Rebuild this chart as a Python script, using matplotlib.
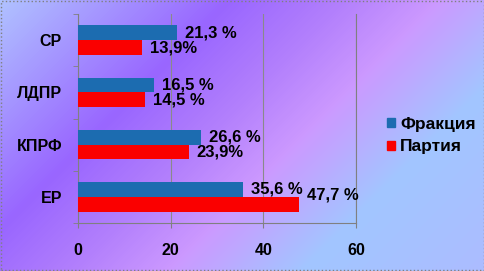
import numpy as np
import matplotlib
matplotlib.use("Agg")
import matplotlib.pyplot as plt
from matplotlib.colors import LinearSegmentedColormap
from matplotlib.patches import Patch, Rectangle

plt.rcParams['font.family'] = ['Liberation Sans', 'DejaVu Sans']
plt.rcParams['font.weight'] = 'bold'

# data (bottom to top, as drawn)
parties = ['ЕР', 'КПРФ', 'ЛДПР', 'СР']
fraction = [35.6, 26.6, 16.5, 21.3]
party = [47.7, 23.9, 14.5, 13.9]
fraction_labels = ['35,6 %', '26,6 %', '16,5 %', '21,3 %']
party_labels = ['47,7 %', '23,9%', '14,5 %', '13,9%']
series_names = ['Фракция', 'Партия']
x_ticks = [0, 20, 40, 60]

W, H = 485, 271
fig = plt.figure(figsize=(W / 100, H / 100), dpi=100)

# diagonal gradient background
bg = fig.add_axes([0, 0, 1, 1], zorder=-10)
yy, xx = np.mgrid[0:H, 0:W]
s = (xx + yy) / (W + H)
cmap = LinearSegmentedColormap.from_list('bg', [
    (0.0, '#b0c2ff'), (0.3, '#9966ff'), (0.45, '#b27ffc'),
    (0.58, '#cc99ff'), (0.76, '#a2c6ff'), (1.0, '#acbcff')])
bg.imshow(s, cmap=cmap, vmin=0, vmax=1, aspect='auto', interpolation='bilinear')
bg.set_axis_off()
fig.patches.append(Rectangle((0.002, 0.004), 0.995, 0.992, transform=fig.transFigure,
                             fill=False, ec='#808080', lw=1, ls=':'))

ax = fig.add_axes([78 / W, 1 - 223 / H, (356 - 78) / W, (223 - 14) / H])
ax.set_facecolor('none')

y = np.arange(len(parties))
h = 0.285
off = 0.142
blue = '#1c6cb0'
red = '#fa0000'
ax.barh(y + off, fraction, height=h, color=blue, zorder=3)
ax.barh(y - off, party, height=h, color=red, zorder=3)

# labels; the big red one was nudged up in the original
dy_party = [9, 0, 0, 0]
for i in range(len(parties)):
    ax.annotate(fraction_labels[i], (fraction[i], y[i] + off), xytext=(8, 0),
                textcoords='offset pixels', va='center', ha='left',
                fontsize=12, fontweight='bold', zorder=4)
    ax.annotate(party_labels[i], (party[i], y[i] - off), xytext=(8, dy_party[i]),
                textcoords='offset pixels', va='center', ha='left',
                fontsize=12, fontweight='bold', zorder=4)

ax.set_xlim(0, 60)
ax.set_ylim(-0.5, len(parties) - 0.5)
ax.set_xticks(x_ticks)
ax.set_yticks(y)
ax.set_yticklabels(parties)
ax.set_yticks(np.arange(-0.5, len(parties)), minor=True)
ax.tick_params(axis='y', which='major', length=0, pad=11.5, labelsize=11.5)
ax.tick_params(axis='y', which='minor', length=3.6, color='#808080', direction='out')
ax.tick_params(axis='x', length=3.6, color='#808080', pad=10.5, labelsize=11.5)
for t in ax.get_xticklabels() + ax.get_yticklabels():
    t.set_fontweight('bold')

ax.grid(axis='x', color='#8a8a8a', lw=0.8, zorder=0)
for side in ['left', 'bottom', 'right']:
    ax.spines[side].set_color('#808080')
    ax.spines[side].set_linewidth(0.8)
ax.spines['top'].set_visible(False)

handles = [Patch(color=blue), Patch(color=red)]
fig.legend(handles, series_names, loc='center left', bbox_to_anchor=(387 / W, 1 - 135.5 / H),
           frameon=False, borderpad=0, borderaxespad=0, handlelength=0.45, handleheight=0.45,
           handletextpad=0.3, labelspacing=0.45, prop={'size': 12.5, 'weight': 'bold'})

fig.savefig('out.png', dpi=100)
